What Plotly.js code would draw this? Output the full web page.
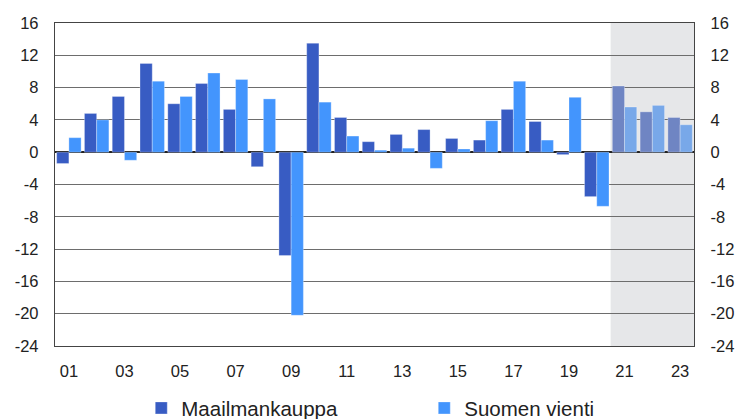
<!DOCTYPE html>
<html>
<head>
<meta charset="utf-8">
<script src="https://cdn.plot.ly/plotly-3.0.1.min.js"></script>
<style>html,body{margin:0;padding:0;background:#fff;}#chart{width:739px;height:419px;}</style>
</head>
<body>
<div id="chart"></div>
<script>
const years = [2001,2002,2003,2004,2005,2006,2007,2008,2009,2010,2011,2012,2013,2014,2015,2016,2017,2018,2019,2020,2021,2022,2023];
const maailmankauppa = [-1.4,4.8,6.9,11.0,6.0,8.5,5.3,-1.8,-12.8,13.5,4.3,1.3,2.2,2.8,1.7,1.5,5.3,3.8,-0.3,-5.5,8.2,5.0,4.3];
const suomenVienti = [1.8,4.0,-1.0,8.8,6.9,9.8,9.0,6.6,-20.2,6.2,2.0,0.25,0.5,-2.0,0.4,3.9,8.8,1.5,6.8,-6.7,5.6,5.8,3.4];
const tickYears = [2001,2003,2005,2007,2009,2011,2013,2015,2017,2019,2021,2023];
const tickLabels = ["01","03","05","07","09","11","13","15","17","19","21","23"];
const yTicks = [-24,-20,-16,-12,-8,-4,0,4,8,12,16];
const forecastStart = 2021;

const darkCol = years.map(y => y >= forecastStart ? '#6f85c3' : '#385cc3');
const lightCol = years.map(y => y >= forecastStart ? '#78a8e9' : '#4395fd');

const traces = [
  {type:'bar', name:'Maailmankauppa', x:years, y:maailmankauppa,
   marker:{color:darkCol, line:{color:'rgba(255,255,255,0.5)', width:0.6}}},
  {type:'bar', name:'Suomen vienti', x:years, y:suomenVienti,
   marker:{color:lightCol, line:{color:'rgba(255,255,255,0.5)', width:0.6}}},
  {type:'scatter', mode:'markers', x:[years[0]], y:[null], yaxis:'y2', showlegend:false, hoverinfo:'skip', marker:{opacity:0}}
];

const tickFont = {family:'"Liberation Sans", Arial, sans-serif', size:16.5, color:'#222'};
const yCommon = {
  range:[-24,16], tickvals:yTicks, ticktext:yTicks.map(String), tickfont:tickFont,
  showline:true, linecolor:'#444', linewidth:1.2, ticks:'', ticklabelstandoff:12
};

const layout = {
  width:739, height:419,
  margin:{l:55, r:45, t:23, b:73, autoexpand:false},
  paper_bgcolor:'#fff', plot_bgcolor:'rgba(0,0,0,0)',
  barmode:'group', bargap:0.12, bargroupgap:0,
  showlegend:true,
  legend:{orientation:'h', x:0.135, xanchor:'left', yref:'container', y:0.026, yanchor:'middle',
    font:{family:'"Liberation Sans", Arial, sans-serif', size:20.5, color:'#222'},
    entrywidth:238, entrywidthmode:'pixels', traceorder:'normal'},
  xaxis:{range:[2000.5,2023.5], tickvals:tickYears, ticktext:tickLabels, tickfont:tickFont,
    showline:true, mirror:true, linecolor:'#444', linewidth:1.2, showgrid:false, zeroline:false,
    ticks:'', ticklabelstandoff:10, automargin:false},
  yaxis:Object.assign({}, yCommon, {side:'left', showgrid:true, gridcolor:'#6d6d6d', gridwidth:1,
    zeroline:true, zerolinecolor:'#222', zerolinewidth:1.5, mirror:true, automargin:false}),
  yaxis2:Object.assign({}, yCommon, {side:'right', overlaying:'y', showgrid:false, zeroline:false, automargin:false}),
  shapes:[{type:'rect', xref:'x', yref:'paper', x0:forecastStart-0.5, x1:2023.5, y0:0, y1:1,
    fillcolor:'#e6e7e9', line:{width:0}, layer:'below'}]
};

Plotly.newPlot('chart', traces, layout, {staticPlot:true, displayModeBar:false});
</script>
</body>
</html>
